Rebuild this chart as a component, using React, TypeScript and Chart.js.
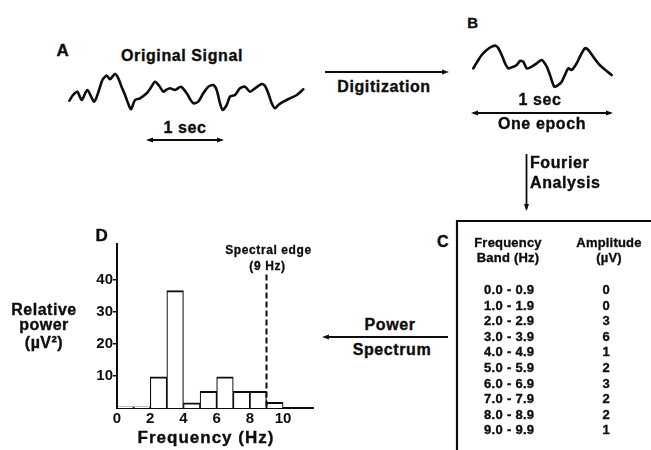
import React, { useEffect, useRef } from "react";
import { Chart, registerables } from "chart.js";
Chart.register(...registerables);

const FONT = '"Liberation Sans", Arial, Helvetica, sans-serif';
const INK = "#0d0d0d";

// Panel A: original signal (time in s, amplitude in µV)
const signalATime = [0.004, 0.053, 0.109, 0.167, 0.241, 0.333, 0.43, 0.447, 0.496, 0.539, 0.605, 0.649, 0.693, 0.737, 0.776, 0.816, 0.868, 0.934, 1.022, 1.066, 1.132, 1.188, 1.241, 1.276, 1.329, 1.395, 1.474, 1.549, 1.592, 1.636, 1.701, 1.767, 1.833, 1.899, 1.943, 1.987, 2.022, 2.075, 2.118, 2.184, 2.25, 2.316, 2.382, 2.447, 2.536, 2.579, 2.622, 2.667, 2.711, 2.754, 2.82, 2.908, 2.996, 3.083];
const signalAAmp = [-8.7, -3, 0.3, -8, 2, -9.7, 10.3, 13, 16.5, 12.7, 18, 13.7, 5, -3, -11, -17.3, -8, -6.3, -1.3, 3, 10.3, 6, 0.3, 2, 3.7, 2, 5.3, -1.3, -7, -11.3, -9.7, -1.3, 5.3, 7, 2, -11.3, -18, -13, -4.7, -3, 3.7, 5.3, 0.3, 3.7, 8, 6, -1.3, -11.3, -16.3, -13, -9.7, -6.3, -3, 2.7];

// Panel B: one digitized epoch
const signalBTime = [0.009, 0.045, 0.069, 0.105, 0.141, 0.169, 0.188, 0.212, 0.236, 0.259, 0.295, 0.319, 0.343, 0.366, 0.391, 0.426, 0.462, 0.498, 0.534, 0.557, 0.588, 0.616, 0.641, 0.664, 0.688, 0.712, 0.748, 0.771, 0.807, 0.831, 0.866, 0.902, 0.938, 0.998];
const signalBAmp = [-2.3, 6, 11, 16, 19.3, 20.3, 17.7, 11, 2.7, -2.3, -0.7, 1, 5, 4.3, -2.3, -0.7, 2.7, 6, -0.7, -9, -20.7, -19, -15.7, -9, -2.3, -4, 2.7, 9.3, 17.7, 16, 9.3, 2.7, -2.3, -9];

// Panel C: table
const bandLabels = ["0.0 - 0.9", "1.0 - 1.9", "2.0 - 2.9", "3.0 - 3.9", "4.0 - 4.9", "5.0 - 5.9", "6.0 - 6.9", "7.0 - 7.9", "8.0 - 8.9", "9.0 - 9.9"];
const bandAmplitudes = ["0", "0", "3", "6", "1", "2", "3", "2", "2", "1"];

// Panel D: power spectrum
const bandStartHz = [0, 1, 2, 3, 4, 5, 6, 7, 8, 9];
const relativePower = [0.4, 0.4, 9.7, 36.5, 1.6, 5.2, 9.7, 5.2, 5.2, 1.8];
const xTickValues = [0, 2, 4, 6, 8, 10];
const yTickValues = [10, 20, 30, 40];
const spectralEdgeHz = 9;
const edgeLineTop = 41.5;

function Trace(props: { t: number[]; v: number[]; xMin: number; xMax: number; yMin: number; yMax: number; left: number; top: number; width: number; height: number }) {
  const ref = useRef<HTMLCanvasElement>(null);
  useEffect(() => {
    const chart = new Chart(ref.current!, {
      type: "line",
      data: {
        datasets: [
          {
            data: props.t.map((x, i) => ({ x, y: props.v[i] })),
            borderColor: INK,
            borderWidth: 2.6,
            pointRadius: 0,
            tension: 0.25,
            borderJoinStyle: "round",
            borderCapStyle: "round",
          },
        ],
      },
      options: {
        animation: false,
        responsive: false,
        events: [],
        clip: false as any,
        plugins: { legend: { display: false }, tooltip: { enabled: false } },
        layout: { padding: 0 },
        scales: {
          x: { type: "linear", min: props.xMin, max: props.xMax, display: false },
          y: { type: "linear", min: props.yMin, max: props.yMax, display: false },
        },
      },
    });
    return () => chart.destroy();
  }, []);
  return (
    <canvas
      ref={ref}
      width={props.width}
      height={props.height}
      style={{ position: "absolute", left: props.left, top: props.top, width: props.width, height: props.height }}
    />
  );
}

const edgePlugin = {
  id: "spectralEdge",
  afterDatasetsDraw(chart: any) {
    const { ctx, scales } = chart;
    const px = scales.x.getPixelForValue(spectralEdgeHz);
    const top = scales.y.getPixelForValue(edgeLineTop);
    const bottom = scales.y.getPixelForValue(0);
    ctx.save();
    ctx.strokeStyle = INK;
    ctx.lineWidth = 2;
    ctx.setLineDash([6, 3]);
    ctx.beginPath();
    ctx.moveTo(px, top);
    ctx.lineTo(px, bottom);
    ctx.stroke();
    ctx.setLineDash([]);
    ctx.fillStyle = INK;
    ctx.font = `bold 12px ${FONT}`;
    ctx.textAlign = "center";
    ctx.textBaseline = "middle";
    (ctx as any).letterSpacing = "0.6px";
    ctx.lineWidth = 0.3;
    ctx.fillText("Spectral edge", px + 2, top - 24);
    ctx.strokeText("Spectral edge", px + 2, top - 24);
    ctx.fillText(`(${spectralEdgeHz} Hz)`, px + 1, top - 8);
    ctx.strokeText(`(${spectralEdgeHz} Hz)`, px + 1, top - 8);
    ctx.restore();
  },
};

function Spectrum() {
  const ref = useRef<HTMLCanvasElement>(null);
  useEffect(() => {
    const tickFont = { family: FONT, size: 15, weight: "bold" as const };
    const chart = new Chart(ref.current!, {
      type: "bar",
      data: {
        datasets: [
          {
            data: bandStartHz.map((s, i) => ({ x: s + 0.5, y: relativePower[i] })),
            backgroundColor: "#ffffff",
            borderColor: INK,
            borderWidth: { top: 2, left: 1.2, right: 1.2, bottom: 0 },
            borderSkipped: "start",
            barPercentage: 1,
            categoryPercentage: 1,
          },
        ],
      },
      options: {
        animation: false,
        responsive: false,
        events: [],
        plugins: { legend: { display: false }, tooltip: { enabled: false } },
        layout: { padding: { top: 14, right: 17, left: 0, bottom: 0 } },
        scales: {
          x: {
            type: "linear",
            offset: false,
            min: 0,
            max: 11.8,
            afterBuildTicks: (s: any) => {
              s.ticks = xTickValues.map((v) => ({ value: v }));
            },
            afterFit: (s: any) => {
              s.height = 42;
            },
            ticks: { color: INK, font: tickFont, padding: 2, maxRotation: 0, autoSkip: false },
            grid: { display: false, drawTicks: false, offset: false },
            border: { display: true, color: INK, width: 2 },
          },
          y: {
            type: "linear",
            min: 0,
            max: 51,
            afterBuildTicks: (s: any) => {
              s.ticks = yTickValues.map((v) => ({ value: v }));
            },
            afterFit: (s: any) => {
              s.width = 57;
            },
            ticks: { color: INK, font: tickFont, padding: 0 },
            grid: { display: true, drawOnChartArea: false, drawTicks: true, tickLength: 4, color: INK, lineWidth: 1.5 },
            border: { display: true, color: INK, width: 2 },
          },
        },
      },
      plugins: [edgePlugin],
    });
    return () => chart.destroy();
  }, []);
  return <canvas ref={ref} width={270} height={220} style={{ position: "absolute", left: 60, top: 230, width: 270, height: 220 }} />;
}

function Txt(props: { x: number; y: number; size?: number; ls?: number; align?: "center" | "left"; children: React.ReactNode }) {
  const { x, y, size = 16, ls = 0.6, align = "center" } = props;
  return (
    <div
      style={{
        position: "absolute",
        left: x,
        top: y,
        transform: align === "center" ? "translate(-50%,-50%)" : "translate(0,-50%)",
        font: `bold ${size}px ${FONT}`,
        letterSpacing: ls,
        lineHeight: 1,
        whiteSpace: "nowrap",
        color: INK,
        WebkitTextStroke: `0.35px ${INK}`,
      }}
    >
      {props.children}
    </div>
  );
}

function head(x: number, y: number, dir: "l" | "r" | "d") {
  const L = 7, W = 2.5;
  let pts = "";
  if (dir === "r") pts = `${x},${y} ${x - L},${y - W} ${x - L},${y + W}`;
  if (dir === "l") pts = `${x},${y} ${x + L},${y - W} ${x + L},${y + W}`;
  if (dir === "d") pts = `${x},${y} ${x - W},${y - L} ${x + W},${y - L}`;
  return <polygon points={pts} fill={INK} />;
}

export default function App() {
  const rowY = (i: number) => 289 + i * 15.6;
  return (
    <div style={{ position: "fixed", left: 0, top: 0, width: 651, height: 450, background: "#fff", overflow: "hidden" }}>
      <svg width={651} height={450} style={{ position: "absolute", left: 0, top: 0 }}>
        <g stroke={INK} strokeWidth={1.8} fill="none">
          <line x1={148} y1={140} x2={222} y2={140} />
          <line x1={325} y1={72} x2={446} y2={72} />
          <line x1={473} y1={113} x2={611} y2={113} />
          <line x1={526.5} y1={154} x2={526.5} y2={209} />
          <line x1={325} y1={337} x2={448} y2={337} />
          <line x1={457} y1={221} x2={651} y2={221} strokeWidth={2.2} />
          <line x1={457} y1={220} x2={457} y2={450} strokeWidth={2.2} />
        </g>
        {head(146, 140, "l")}
        {head(224, 140, "r")}
        {head(449, 72, "r")}
        {head(471, 113, "l")}
        {head(613, 113, "r")}
        {head(526.5, 211, "d")}
        {head(322, 337, "l")}
      </svg>

      <Trace t={signalATime} v={signalAAmp} xMin={-0.066} xMax={3.171} yMin={-24} yMax={24} left={64} top={68} width={246} height={48} />
      <Trace t={signalBTime} v={signalBAmp} xMin={-0.036} xMax={1.036} yMin={-26} yMax={26} left={467} top={40} width={150} height={52} />
      <Spectrum />

      <Txt x={63} y={50} size={17}>A</Txt>
      <Txt x={182} y={56}>Original Signal</Txt>
      <Txt x={185} y={128}>1 sec</Txt>
      <Txt x={384} y={87}>Digitization</Txt>
      <Txt x={473} y={22} size={15}>B</Txt>
      <Txt x={540} y={100}>1 sec</Txt>
      <Txt x={542} y={124}>One epoch</Txt>
      <Txt x={530} y={163} align="left">Fourier</Txt>
      <Txt x={530} y={183} align="left">Analysis</Txt>

      <Txt x={443} y={242} size={16}>C</Txt>
      <Txt x={508} y={242} size={13} ls={0.2}>Frequency</Txt>
      <Txt x={508} y={257} size={13} ls={0.2}>Band (Hz)</Txt>
      <Txt x={609} y={242} size={13} ls={0.2}>Amplitude</Txt>
      <Txt x={609} y={257} size={13} ls={0.2}>(µV)</Txt>
      {bandLabels.map((b, i) => (
        <Txt key={b} x={484} y={rowY(i)} size={13} ls={0.3} align="left">{b}</Txt>
      ))}
      {bandAmplitudes.map((a, i) => (
        <Txt key={"a" + i} x={606} y={rowY(i)} size={13} ls={0}>{a}</Txt>
      ))}

      <Txt x={390} y={325}>Power</Txt>
      <Txt x={392} y={350}>Spectrum</Txt>

      <Txt x={102} y={235} size={17}>D</Txt>
      <Txt x={44} y={310} ls={0.5}>Relative</Txt>
      <Txt x={44} y={325} ls={0.5}>power</Txt>
      <Txt x={44} y={343} ls={0.5}>(µV²)</Txt>
      <Txt x={206} y={437} size={17} ls={1}>Frequency (Hz)</Txt>
    </div>
  );
}
